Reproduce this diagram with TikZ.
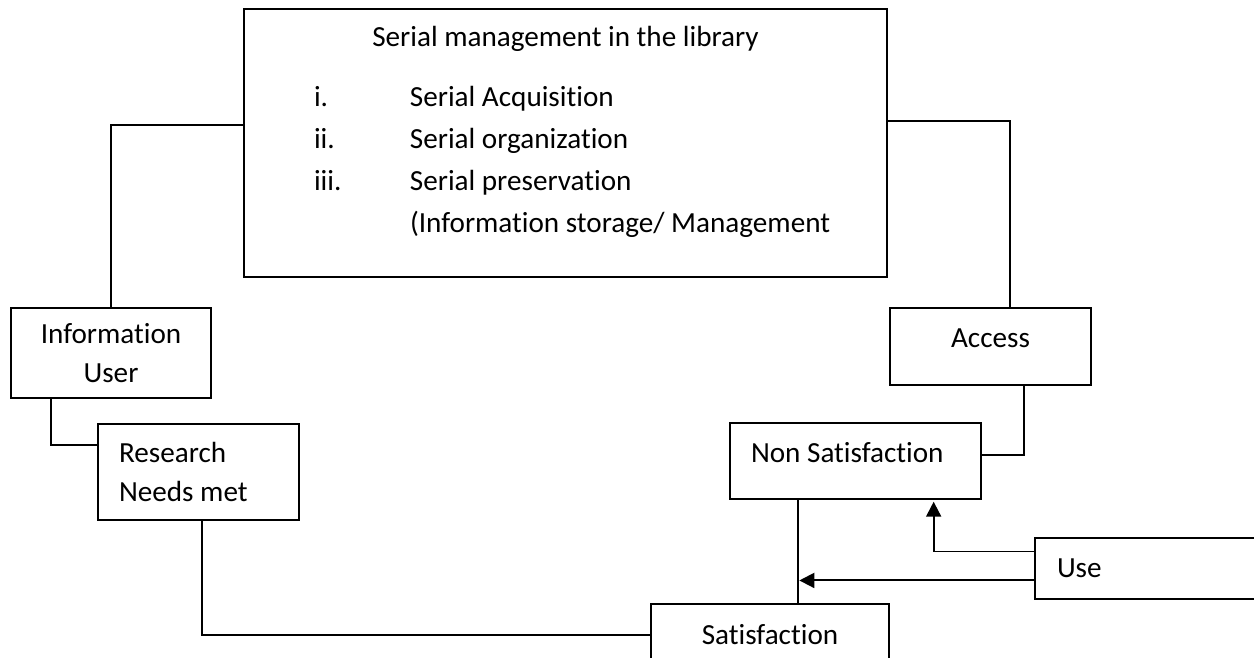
\documentclass[tikz,border=0pt]{standalone}
\usepackage{fontspec}
\setmainfont{Carlito}[Ligatures=CommonOff]
\usepackage{tikz}
\usetikzlibrary{calc,arrows.meta}
\newlength\pxu
\setlength\pxu{0.02cm}

\begin{document}
\begin{tikzpicture}[x=0.02cm,y=-0.02cm,line width=1.1pt,-,
        font=\fontsize{16.6}{22.2}\selectfont]
                \tikzstyle{box}=[rectangle,draw=black,inner sep=0pt]
                \tikzstyle{lbox}=[box,align=flush left,inner xsep=21*\pxu]
                \tikzstyle{feed}=[shorten >=1pt,-{Triangle[length=8.5pt,width=8.5pt]}]
                \path[use as bounding box,clip] (0,0) rectangle (1254,658);

                \node[box] (serial) at (565.5,143) {\parbox[c][268\pxu][t]{643\pxu}{%
                        \centering\rule{0pt}{38\pxu}Serial management in the library\par
                        \vspace{18\pxu}\raggedright\baselineskip=42\pxu
                        \hspace*{70\pxu}\makebox[96\pxu][l]{i.}Serial Acquisition\par
                        \hspace*{70\pxu}\makebox[96\pxu][l]{ii.}Serial organization\par
                        \hspace*{70\pxu}\makebox[96\pxu][l]{iii.}Serial preservation\par
                        \hspace*{166\pxu}(Information storage/ Management\par}};
                \node[box,minimum width=200*\pxu,minimum height=90*\pxu,align=flush center] (info) at (111,353) {Information\\User};
                \node[lbox,text width=159*\pxu,minimum height=96*\pxu] (research) at (198.5,472) {Research\\Needs met};
                \node[box,minimum width=201*\pxu,minimum height=77*\pxu,text depth=17*\pxu] (access) at (990.5,346.5) {Access};
                \node[lbox,text width=209*\pxu,minimum height=76*\pxu,text depth=17*\pxu] (nonsat) at (855.5,461) {Non Satisfaction};
                \node[box,minimum width=238*\pxu,minimum height=62*\pxu] (satis) at (770,635) {Satisfaction};
                \node[box,align=flush left,inner xsep=22*\pxu,text width=196*\pxu,minimum height=61*\pxu] (use) at (1155,568.5) {Use};

                \coordinate (nsb) at ($(nonsat.south west)!0.271!(nonsat.south east)$);
                \coordinate (usea) at ($(use.north west)!0.23!(use.south west)$);
                \coordinate (useb) at ($(use.north west)!0.69!(use.south west)$);

                \draw (info.north) |- ($(serial.north west)!0.433!(serial.south west)$);
                \draw ($(serial.north east)!0.418!(serial.south east)$) -| ($(access.north west)!0.597!(access.north east)$);
                \draw ($(access.south west)!0.667!(access.south east)$) |- ($(nonsat.north east)!0.42!(nonsat.south east)$);
                \draw ($(info.south west)!0.205!(info.south east)$) |- ($(research.north west)!0.22!(research.south west)$);
                \draw ($(research.south west)!0.517!(research.south east)$) |- (satis.west);
                \draw (nsb) -- (nsb |- satis.north);

                \draw[feed] (usea) -| ($(nonsat.south west)!0.809!(nonsat.south east)$);
                \draw[feed] (useb) -- (nsb |- useb);
\end{tikzpicture}
\end{document}
